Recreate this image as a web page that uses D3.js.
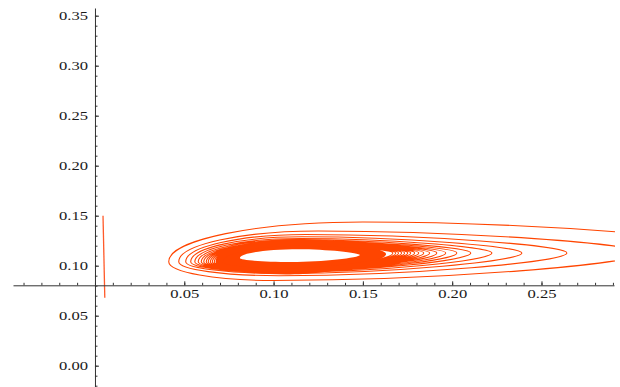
<!DOCTYPE html>
<html>
<head>
<meta charset="utf-8">
<script src="https://cdn.jsdelivr.net/npm/d3@7"></script>
<style>
  html, body { margin: 0; padding: 0; background: #fff; }
  svg { display: block; }
</style>
</head>
<body>
<div id="chart"></div>
<script>
// axis ticks
const xMajorTicks = [0.05, 0.10, 0.15, 0.20, 0.25];
const yMajorTicks = [0.00, 0.05, 0.10, 0.15, 0.20, 0.25, 0.30, 0.35];

// spiral turns, outermost first
const turnLeftX   = [0.0413, 0.0469, 0.0508, 0.0536, 0.0559, 0.0578, 0.0595, 0.0609, 0.0623, 0.0634, 0.0646, 0.0657, 0.0668, 0.0679, 0.0686, 0.0692, 0.0698, 0.0703, 0.0708, 0.0712];
const turnTopY    = [0.1437, 0.1347, 0.1312, 0.1289, 0.1272, 0.1259, 0.1249, 0.1242, 0.1236, 0.1231, 0.1227, 0.1223, 0.1220, 0.1217, 0.1214, 0.1212, 0.1210, 0.1208, 0.1206, 0.1204];
const turnRightX  = [0.373, 0.306, 0.2642, 0.2390, 0.2222, 0.2104, 0.2026, 0.1964, 0.1914, 0.1874, 0.1841, 0.1813, 0.1790, 0.1768, 0.1751, 0.1734, 0.1717, 0.1700, 0.1684, 0.1668];
const turnBottomY = [NaN, 0.0852, 0.0900, 0.0922, 0.0934, 0.0941, 0.0946, 0.0950, 0.0953, 0.0955, 0.0957, 0.0959, 0.0961, 0.0962, 0.0963, 0.0964, 0.0965, 0.0966, 0.0967, 0.0968];
const turnTopX    = [0.150, 0.125, 0.118, 0.116, 0.115, 0.115, 0.115, 0.115, 0.115, 0.115, 0.115, 0.115, 0.115, 0.115, 0.115, 0.115, 0.115, 0.115, 0.115, 0.115];
const turnBottomX = [0.100, 0.100, 0.103, 0.105, 0.105, 0.105, 0.105, 0.105, 0.105, 0.105, 0.105, 0.105, 0.105, 0.105, 0.105, 0.105, 0.105, 0.105, 0.105, 0.105];
const tipLeftY = 0.104;
const tipRightY = 0.1128;

// solid band of tightly packed turns: [leftX, leftY, topX, topY, rightX, rightY, bottomX, bottomY]
const bandOuter = [0.0676, 0.1045, 0.113, 0.1268, 0.163, 0.1118, 0.107, 0.0912];
const bandHole  = [0.0811, 0.1077, 0.114, 0.1165, 0.1483, 0.1107, 0.110, 0.1037];

// the short separate segment near the y axis
const sidePoints = [[0.0045, 0.150], [0.0055, 0.068]];

const axisCrossY = 0.0804;

const width = 620, height = 387;
const color = '#ff4500';

const x = d3.scaleLinear().domain([-0.0459, 0.2906]).range([13, 614]);
const y = d3.scaleLinear().domain([-0.0213, 0.3577]).range([387, 8]);

const svg = d3.select('#chart').append('svg')
  .attr('width', width)
  .attr('height', height);

svg.append('defs').append('clipPath').attr('id', 'plot')
  .append('rect').attr('x', 13).attr('y', 8).attr('width', 602).attr('height', 379);

// shape pieces (pixel space)
const K = 0.55, A = 0.45, B = 0.4;
const leftToTop = (p, l, t) => p.bezierCurveTo(l[0], l[1] + K * (t[1] - l[1]), t[0] - K * (t[0] - l[0]), t[1], t[0], t[1]);
const topToRight = (p, t, r) => p.bezierCurveTo(t[0] + A * (r[0] - t[0]), t[1], r[0], r[1] + B * (t[1] - r[1]), r[0], r[1]);
const rightToBottom = (p, r, b) => p.bezierCurveTo(r[0], r[1] + B * (b[1] - r[1]), b[0] + A * (r[0] - b[0]), b[1], b[0], b[1]);
const bottomToLeft = (p, b, l) => p.bezierCurveTo(b[0] - K * (b[0] - l[0]), b[1], l[0], l[1] + K * (b[1] - l[1]), l[0], l[1]);

function eggPath(p, s) {
  const l = [x(s[0]), y(s[1])], t = [x(s[2]), y(s[3])], r = [x(s[4]), y(s[5])], b = [x(s[6]), y(s[7])];
  p.moveTo(l[0], l[1]);
  leftToTop(p, l, t);
  topToRight(p, t, r);
  rightToBottom(p, r, b);
  bottomToLeft(p, b, l);
  p.closePath();
}

const g = svg.append('g').attr('clip-path', 'url(#plot)');

// dense band
const band = d3.path();
eggPath(band, bandOuter);
eggPath(band, bandHole);
g.append('path')
  .attr('d', band.toString())
  .attr('fill', color)
  .attr('fill-rule', 'evenodd');

// spiral, from innermost turn outward
const spiral = d3.path();
const n = turnLeftX.length;
for (let i = n - 1; i >= 0; i--) {
  const l = [x(turnLeftX[i]), y(tipLeftY)];
  const t = [x(turnTopX[i]), y(turnTopY[i])];
  const r = [x(turnRightX[i]), y(tipRightY)];
  if (i === n - 1) spiral.moveTo(l[0], l[1]);
  leftToTop(spiral, l, t);
  topToRight(spiral, t, r);
  if (i > 0) {
    const b = [x(turnBottomX[i]), y(turnBottomY[i])];
    const l2 = [x(turnLeftX[i - 1]), y(tipLeftY)];
    rightToBottom(spiral, r, b);
    bottomToLeft(spiral, b, l2);
  }
}
g.append('path')
  .attr('d', spiral.toString())
  .attr('fill', 'none')
  .attr('stroke', color)
  .attr('stroke-width', 1.1);

g.append('path')
  .attr('d', d3.line().x(d => x(d[0])).y(d => y(d[1]))(sidePoints))
  .attr('fill', 'none')
  .attr('stroke', '#ff5a2a')
  .attr('stroke-width', 1.3);

// axes
const axisColor = '#333';
function styleAxis(sel) {
  sel.select('.domain').attr('stroke', axisColor).attr('stroke-width', 1);
  sel.selectAll('line').attr('stroke', axisColor);
  sel.selectAll('text')
    .attr('fill', '#1a1a1a')
    .style('font-family', '"Liberation Serif", "DejaVu Serif", serif')
    .style('font-size', '12px')
    .attr('textLength', 29)
    .attr('lengthAdjust', 'spacingAndGlyphs');
}

const xMinor = d3.range(-4, 30).map(v => v / 100);
const yMinor = d3.range(-2, 36).map(v => v / 100);

svg.append('g')
  .attr('transform', `translate(0, ${y(axisCrossY)})`)
  .call(d3.axisBottom(x).tickValues(xMinor).tickFormat('').tickSizeInner(-2.5).tickSizeOuter(0))
  .call(s => s.select('.domain').remove())
  .call(styleAxis);

svg.append('g')
  .attr('transform', `translate(0, ${y(axisCrossY)})`)
  .call(d3.axisBottom(x).tickValues(xMajorTicks).tickFormat(d3.format('.2f')).tickSizeInner(-4).tickSizeOuter(0).tickPadding(4))
  .call(styleAxis);

svg.append('g')
  .attr('transform', `translate(${x(0)}, 0)`)
  .call(d3.axisLeft(y).tickValues(yMinor).tickFormat('').tickSizeInner(-2.5).tickSizeOuter(0))
  .call(s => s.select('.domain').remove())
  .call(styleAxis);

svg.append('g')
  .attr('transform', `translate(${x(0)}, 0)`)
  .call(d3.axisLeft(y).tickValues(yMajorTicks).tickFormat(d3.format('.2f')).tickSizeInner(-4).tickSizeOuter(0).tickPadding(7))
  .call(styleAxis);
</script>
</body>
</html>
